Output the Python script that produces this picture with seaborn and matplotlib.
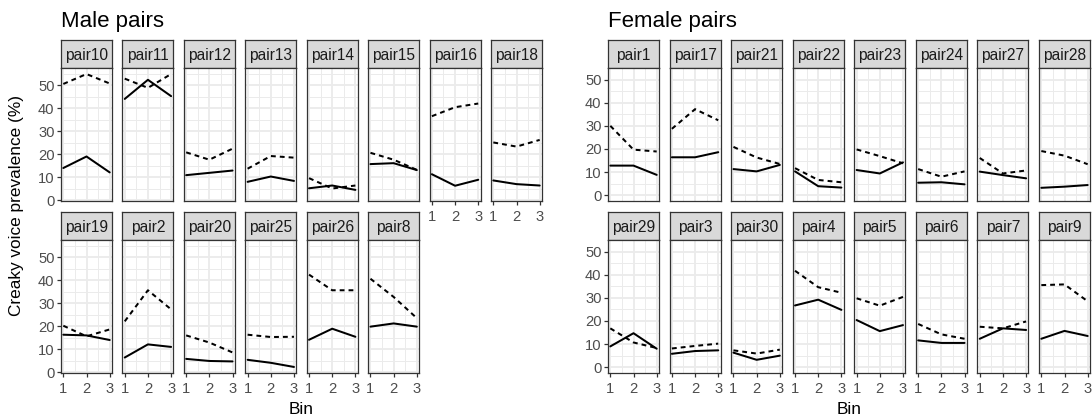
import numpy as np
import pandas as pd
import matplotlib
matplotlib.use("Agg")
import matplotlib.pyplot as plt
import seaborn as sns

# ---------------- data ----------------
bins = [1, 2, 3]

male_pairs = ["pair10", "pair11", "pair12", "pair13", "pair14", "pair15", "pair16", "pair18",
              "pair19", "pair2", "pair20", "pair25", "pair26", "pair8"]
male_solid = [
    [14.0, 19.0, 12.1], [44.0, 52.3, 45.2], [10.9, 11.9, 12.9], [8.0, 10.3, 8.4],
    [5.2, 6.4, 4.5], [15.7, 16.1, 13.1], [11.3, 6.3, 8.9], [8.6, 7.0, 6.4],
    [16.3, 16.0, 14.0], [6.4, 12.1, 11.0], [5.8, 4.9, 4.7], [5.4, 4.1, 2.3],
    [14.1, 18.9, 15.4], [19.8, 21.2, 19.8],
]
male_dashed = [
    [50.5, 54.8, 50.7], [52.8, 48.8, 54.8], [20.8, 17.6, 22.4], [13.7, 19.2, 18.5],
    [9.6, 5.1, 6.4], [20.6, 17.6, 13.2], [36.5, 40.4, 42.0], [25.1, 23.3, 26.2],
    [20.2, 15.6, 18.6], [22.1, 35.6, 27.3], [16.0, 12.9, 8.6], [16.3, 15.3, 15.4],
    [42.4, 35.6, 35.6], [40.6, 32.7, 23.5],
]

female_pairs = ["pair1", "pair17", "pair21", "pair22", "pair23", "pair24", "pair27", "pair28",
                "pair29", "pair3", "pair30", "pair4", "pair5", "pair6", "pair7", "pair9"]
female_solid = [
    [12.8, 12.8, 8.8], [16.4, 16.4, 18.6], [11.3, 10.3, 13.1], [10.3, 3.9, 3.3],
    [10.9, 9.4, 14.2], [5.4, 5.6, 4.7], [10.2, 8.7, 7.3], [3.2, 3.7, 4.4],
    [9.0, 14.7, 8.0], [5.8, 7.0, 7.3], [6.3, 3.2, 5.0], [26.7, 29.2, 24.8],
    [20.4, 15.6, 18.2], [11.6, 10.5, 10.5], [12.3, 16.8, 16.1], [12.3, 15.7, 13.5],
]
female_dashed = [
    [30.0, 19.7, 18.9], [28.7, 37.2, 32.4], [20.9, 16.3, 13.5], [11.7, 6.6, 5.6],
    [19.8, 16.9, 13.8], [11.3, 8.0, 10.3], [16.1, 9.4, 10.7], [19.1, 17.1, 13.4],
    [16.8, 10.7, 8.3], [8.1, 9.2, 10.2], [7.3, 5.9, 7.6], [41.7, 34.6, 32.2],
    [29.8, 26.6, 30.4], [18.7, 14.2, 12.3], [17.5, 16.8, 19.8], [35.5, 35.8, 28.5],
]
female_limits = [0, 50]

y_ticks = [0, 10, 20, 30, 40, 50]
x_ticks = [1, 2, 3]
titles = ["Male pairs", "Female pairs"]
y_title = "Creaky voice prevalence (%)"
x_title = "Bin"


def to_long(pairs, solid, dashed):
    rows = []
    for p, s, d in zip(pairs, solid, dashed):
        for b, v in zip(bins, s):
            rows.append((p, b, v, "A"))
        for b, v in zip(bins, d):
            rows.append((p, b, v, "B"))
    return pd.DataFrame(rows, columns=["pair", "bin", "prev", "series"])


male_df = to_long(male_pairs, male_solid, male_dashed)
female_df = to_long(female_pairs, female_solid, female_dashed)

# ---------------- style ----------------
sns.set_theme(style="white")
plt.rcParams["font.family"] = ["Liberation Sans", "DejaVu Sans"]

W, H = 1092, 419
fig = plt.figure(figsize=(W / 100, H / 100), dpi=100)

GRID = "#EBEBEB"
DARK = "#333333"
TICKTXT = "#4D4D4D"
STRIPFILL = "#D9D9D9"
panel_w = 51
strip_h = 28
panel_h = 133
row_tops = [40, 212]  # strip tops in px
TICK_FS = 10.6


def expand(lo, hi, frac=0.05):
    r = hi - lo
    return lo - frac * r, hi + frac * r


def px_axes(x, ytop, w, h):
    return fig.add_axes([x / W, 1 - (ytop + h) / H, w / W, h / H])


def draw_group(df, pairs, x0, step, ylim, ncol=8):
    n = len(pairs)
    for i, p in enumerate(pairs):
        r, c = divmod(i, ncol)
        x = x0 + c * step
        st = row_tops[r]
        # strip
        sax = px_axes(x, st, panel_w, strip_h)
        sax.set_facecolor(STRIPFILL)
        sax.set_xticks([]); sax.set_yticks([])
        for sp in sax.spines.values():
            sp.set_color(DARK); sp.set_linewidth(0.9)
        sax.text(0.5, 0.46, p, ha="center", va="center", fontsize=11.2,
                 color="#1A1A1A", transform=sax.transAxes)
        # panel
        ax = px_axes(x, st + strip_h, panel_w, panel_h)
        ax.set_facecolor("white")
        sub = df[df["pair"] == p]
        sns.lineplot(data=sub, x="bin", y="prev", style="series",
                     style_order=["A", "B"], dashes={"A": "", "B": (2.4, 2.0)},
                     color="black", linewidth=1.45, legend=False,
                     errorbar=None, ax=ax, zorder=3)
        ax.set_xlim(0.9, 3.1)
        ax.set_ylim(*ylim)
        ax.set_xticks(x_ticks)
        ax.set_yticks(y_ticks)
        ax.set_xticks([1.5, 2.5], minor=True)
        ax.set_yticks([5, 15, 25, 35, 45, 55], minor=True)
        ax.grid(True, which="major", color=GRID, linewidth=1.3, zorder=0)
        ax.grid(True, which="minor", color=GRID, linewidth=0.7, zorder=0)
        ax.set_axisbelow(True)
        for sp in ax.spines.values():
            sp.set_color(DARK); sp.set_linewidth(0.9); sp.set_visible(True)
        ax.set_xlabel(""); ax.set_ylabel("")
        ax.tick_params(which="minor", length=0)
        left_col = (c == 0)
        has_below = (i + ncol) < n
        ax.tick_params(axis="y", which="major", left=left_col, labelleft=left_col,
                       length=2.6, width=0.9, color=DARK, labelcolor=TICKTXT,
                       labelsize=TICK_FS, pad=2.0)
        ax.tick_params(axis="x", which="major", bottom=not has_below,
                       labelbottom=not has_below, length=2.6, width=0.9,
                       color=DARK, labelcolor=TICKTXT, labelsize=TICK_FS, pad=3.8)


# male: y range from data with 5% expansion
m_lo = min(male_df["prev"]); m_hi = max(male_df["prev"])
draw_group(male_df, male_pairs, 61, (491 - 61) / 7, expand(m_lo, m_hi))
draw_group(female_df, female_pairs, 608, (1039 - 608) / 7, expand(*female_limits))

# titles & axis titles
fig.text(61 / W, 1 - 27 / H, titles[0], fontsize=16, ha="left", va="baseline", color="black")
fig.text(608 / W, 1 - 27 / H, titles[1], fontsize=16, ha="left", va="baseline", color="black")
fig.text(17 / W, 1 - 206 / H, y_title, fontsize=12.4, rotation=90,
         ha="center", va="center", color="black")
fig.text(301 / W, 1 - 414 / H, x_title, fontsize=12.4, ha="center", va="baseline", color="black")
fig.text(849 / W, 1 - 414 / H, x_title, fontsize=12.4, ha="center", va="baseline", color="black")

fig.savefig("out.png", dpi=100)
